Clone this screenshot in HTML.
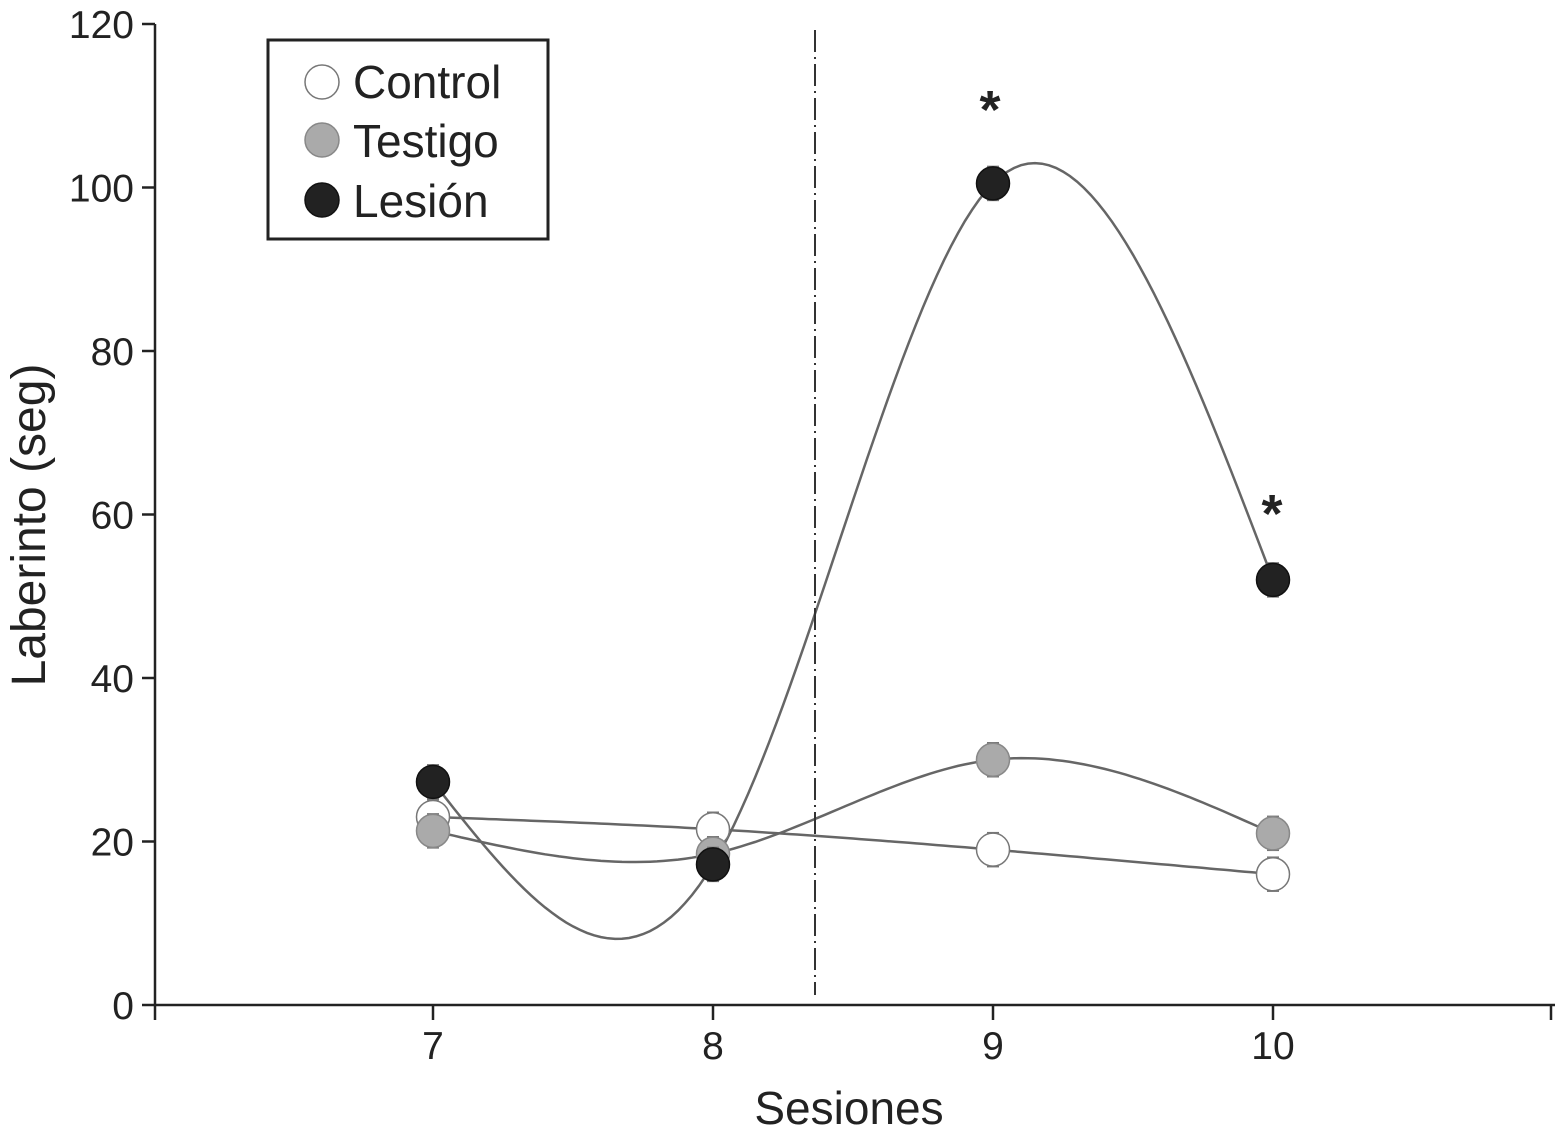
<!DOCTYPE html>
<html><head><meta charset="utf-8"><style>
html,body{margin:0;padding:0;background:#fff;}
svg{display:block;font-family:"Liberation Sans",Arial,sans-serif;}
</style></head><body>
<svg id="chart" width="1558" height="1135" viewBox="0 0 1558 1135">
<g id="axes"></g><g id="lines"></g><g id="marks"></g>
<line x1="815" y1="30" x2="815" y2="995" stroke="#333" stroke-width="2" stroke-dasharray="22,5,2,5"/>
<text x="990" y="128" font-size="54" font-weight="bold" text-anchor="middle" fill="#222">*</text>
<text x="1272" y="532" font-size="54" font-weight="bold" text-anchor="middle" fill="#222">*</text>
<text transform="translate(45,525) rotate(-90)" font-size="48" text-anchor="middle" fill="#222">Laberinto (seg)</text>
<text x="849" y="1124" font-size="46" text-anchor="middle" fill="#222">Sesiones</text>
<g>
<rect x="268" y="40" width="280" height="199" fill="#fff" stroke="#222" stroke-width="3"/>
<g><circle cx="322" cy="82" r="17" fill="#fff" stroke="#777" stroke-width="1.5"/><text x="353" y="98" font-size="46" fill="#222">Control</text></g>
<g><circle cx="322" cy="140" r="17" fill="#aaa" stroke="#888" stroke-width="1.5"/><text x="353" y="157" font-size="46" fill="#222">Testigo</text></g>
<g><circle cx="322" cy="200" r="17" fill="#222" stroke="#111" stroke-width="1.5"/><text x="353" y="217" font-size="46" fill="#222">Lesión</text></g>
</g>
</svg>
<script>
const sessions = [7, 8, 9, 10];
const control = [23, 21.5, 19, 16];
const testigo = [21.3, 18.5, 30, 21];
const lesion = [27.3, 17.2, 100.5, 52];
const yTicks = [0, 20, 40, 60, 80, 100, 120];
const xTicks = [7, 8, 9, 10];

const NS = "http://www.w3.org/2000/svg";
const X = s => 433 + (s - 7) * 280;
const Y = v => 1005 - v * (981 / 120);
function mk(tag, attrs, parent) {
  const e = document.createElementNS(NS, tag);
  for (const k in attrs) e.setAttribute(k, attrs[k]);
  parent.appendChild(e);
  return e;
}
const axes = document.getElementById('axes');
const ya = mk('line', {x1:155, y1:Y(120), x2:155, y2:1005, stroke:'#222', 'stroke-width':2.5}, axes);


const xa = mk('line', {x1:155, y1:1005, x2:1555, y2:1005, stroke:'#222', 'stroke-width':2.5}, axes);


yTicks.forEach(v => {
  mk('line', {x1:142, y1:Y(v), x2:155, y2:Y(v), stroke:'#222', 'stroke-width':2.5}, axes);
  const t = mk('text', {x:134, y:Y(v) + 14, 'font-size':39, 'text-anchor':'end', fill:'#222'}, axes);
  t.textContent = v;
  
  
});
[6, 11].forEach(s => mk('line', {x1:X(s) + (s === 6 ? 2 : -2), y1:1005, x2:X(s) + (s === 6 ? 2 : -2), y2:1020, stroke:'#222', 'stroke-width':2.5}, axes));
xTicks.forEach(s => {
  mk('line', {x1:X(s), y1:1005, x2:X(s), y2:1020, stroke:'#222', 'stroke-width':2.5}, axes);
  const t = mk('text', {x:X(s), y:1059, 'font-size':39, 'text-anchor':'middle', fill:'#222'}, axes);
  t.textContent = s;
  
  
});

function splinePath(xs, ys) {
  const n = xs.length, h = [], M = new Array(n).fill(0);
  for (let i = 0; i < n - 1; i++) h.push(xs[i+1] - xs[i]);
  const a = [], b = [], c = [], d = [];
  for (let i = 1; i < n - 1; i++) {
    a.push(h[i-1]); b.push(2 * (h[i-1] + h[i])); c.push(h[i]);
    d.push(6 * ((ys[i+1] - ys[i]) / h[i] - (ys[i] - ys[i-1]) / h[i-1]));
  }
  const m = b.length;
  for (let i = 1; i < m; i++) { const w = a[i] / b[i-1]; b[i] -= w * c[i-1]; d[i] -= w * d[i-1]; }
  const sol = new Array(m);
  for (let i = m - 1; i >= 0; i--) sol[i] = (d[i] - (i < m - 1 ? c[i] * sol[i+1] : 0)) / b[i];
  for (let i = 0; i < m; i++) M[i+1] = sol[i];
  let p = '';
  for (let i = 0; i < n - 1; i++) {
    for (let k = 0; k <= 40; k++) {
      const t = k / 40, x = xs[i] + t * h[i];
      const A = 1 - t, B = t;
      const y = A * ys[i] + B * ys[i+1] + ((A*A*A - A) * M[i] + (B*B*B - B) * M[i+1]) * h[i] * h[i] / 6;
      p += (p ? 'L' : 'M') + X(x).toFixed(1) + ',' + Y(y).toFixed(1);
    }
  }
  return p;
}
const lines = document.getElementById('lines'), marks = document.getElementById('marks');
const series = [
  {name:'control', vals:control, fill:'#fff', stroke:'#777'},
  {name:'testigo', vals:testigo, fill:'#aaa', stroke:'#888'},
  {name:'lesion', vals:lesion, fill:'#222', stroke:'#111'}
];
series.forEach(s => {
  const p = mk('path', {d:splinePath(sessions, s.vals), fill:'none', stroke:'#666', 'stroke-width':2.5}, lines);
  
  
});
series.forEach(s => {
  s.vals.forEach((v, i) => {
    const cx = X(sessions[i]), cy = Y(v);
    mk('line', {x1:cx-6, y1:cy-17, x2:cx+6, y2:cy-17, stroke:'#777', 'stroke-width':1.5}, marks);
    mk('line', {x1:cx-6, y1:cy+17, x2:cx+6, y2:cy+17, stroke:'#777', 'stroke-width':1.5}, marks);
    const c = mk('circle', {cx:cx, cy:cy, r:16.5, fill:s.fill, stroke:s.stroke, 'stroke-width':1.5}, marks);
    
    
  });
});
</script>
</body></html>
